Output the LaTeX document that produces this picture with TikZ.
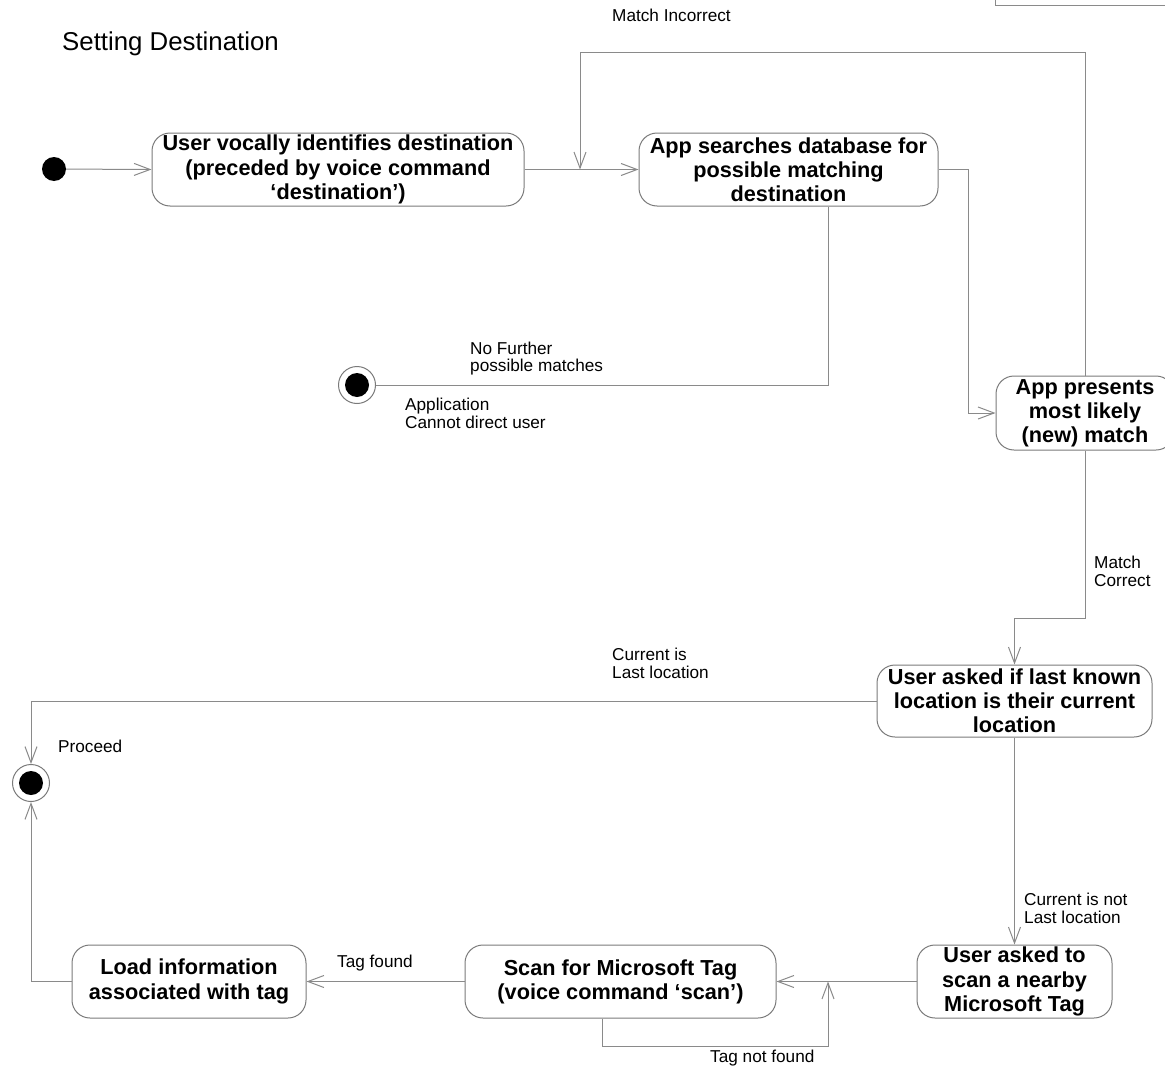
\documentclass[tikz,border=0pt]{standalone}
\usepackage{fontspec}
\setmainfont{Liberation Sans}
\usetikzlibrary{arrows.meta}
\definecolor{lncol}{HTML}{8A8A8A}
\definecolor{bxcol}{HTML}{7A7A7A}
\tikzset{
  statebox/.style={draw=bxcol, line width=1pt, rounded corners=18pt, inner sep=0pt, align=center,
    font=\fontsize{21.7}{24.2}\selectfont\bfseries, text=black},
  conn/.style={draw=lncol, line width=1pt},
  arr/.style={conn, -{Straight Barb[length=16pt,width=12pt,line width=1pt]}},
  lbl/.style={inner sep=0pt, anchor=west, align=left, font=\fontsize{17.2}{17.8}\selectfont},
  initdot/.style={circle, fill=black, minimum size=24pt, inner sep=0pt},
  finring/.style={circle, draw=bxcol, line width=1pt, minimum size=37pt, inner sep=0pt},
}
\begin{document}
\begin{tikzpicture}[x=1pt,y=-1pt]
\useasboundingbox (0,0) rectangle (1165,1068);
\begin{scope}
\clip (0,0) rectangle (1165,1068);
% partial box at top right
\draw[conn] (995,0) -- (995,5) -- (1165,5);

\node[lbl, font=\fontsize{25.8}{28}\selectfont] (title) at (62,44) {Setting Destination};

% states
\node[initdot] (start) at (54,169) {};
\node[statebox, minimum width=372pt, minimum height=73pt] (b1) at (338,169.5)
  {User vocally identifies destination\\(preceded by voice command\\‘destination’)};
\node[statebox, minimum width=299pt, minimum height=73pt] (b2) at (788.5,169.5)
  {App searches database for\\possible matching\\destination};
\node[statebox, minimum width=178pt, minimum height=74pt] (b3) at (1085,413)
  {App presents\\most likely\\(new) match};
\node[statebox, minimum width=275pt, minimum height=72pt] (b4) at (1014.5,701)
  {User asked if last known\\location is their current\\location};
\node[statebox, minimum width=195pt, minimum height=73pt] (b5) at (1014.5,981.5)
  {User asked to\\scan a nearby\\Microsoft Tag};
\node[statebox, minimum width=311pt, minimum height=73pt] (b6) at (620.5,981.5)
  {Scan for Microsoft Tag\\(voice command ‘scan’)};
\node[statebox, minimum width=234pt, minimum height=73pt] (b7) at (189,981.5)
  {Load information\\associated with tag};

\node[finring] (f1) at (357,385) {};
\node[initdot] at (f1) {};
\node[finring] (f2) at (31,783) {};
\node[initdot] at (f2) {};

% helper coordinates
\coordinate (miA) at (1085,52);
\coordinate (miB) at (580,52);
\coordinate (miJ) at (580,169.5);
\coordinate (mcA) at (1085,618);
\coordinate (tnfJ) at (828,981.5);

% connectors
\draw[arr] (start) -- (b1.west);
\draw[arr] (b1.east) -- (b2.west);
\draw[arr] (b3.north) -- (miA) -- (miB) -- (miJ);
\draw[arr] (b2.east) -- ++(30,0) |- (b3.west);
\draw[conn] ([xshift=39.5pt]b2.south) |- (f1.east);
\draw[arr] (b3.south) -- (mcA) -| (b4.north);
\draw[arr] (b4.west) -| (f2.north);
\draw[arr] (b4.south) -- (b5.north);
\draw[arr] (b5.west) -- (b6.east);
\draw[arr] ([xshift=-18.5pt]b6.south) -- ++(0,28) -| (tnfJ);
\draw[arr] (b6.west) -- (b7.east);
\draw[arr] (b7.west) -| (f2.south);

% labels
\node[lbl] (lMI) at (612,15) {Match Incorrect};
\node[lbl] (lNF) at (470,358.5) {No Further\\possible matches};
\node[lbl] (lAC) at (405,413) {Application\\Cannot direct user};
\node[lbl] (lMC) at (1094,571) {Match\\Correct};
\node[lbl] (lCL) at (612,663.5) {Current is\\Last location};
\node[lbl] (lPR) at (58,746) {Proceed};
\node[lbl] (lCN) at (1024,908.5) {Current is not\\Last location};
\node[lbl] (lTF) at (337,963) {Tag found};
\node[lbl] (lTN) at (710,1058) {Tag not found};
\end{scope}
\end{tikzpicture}
\end{document}
